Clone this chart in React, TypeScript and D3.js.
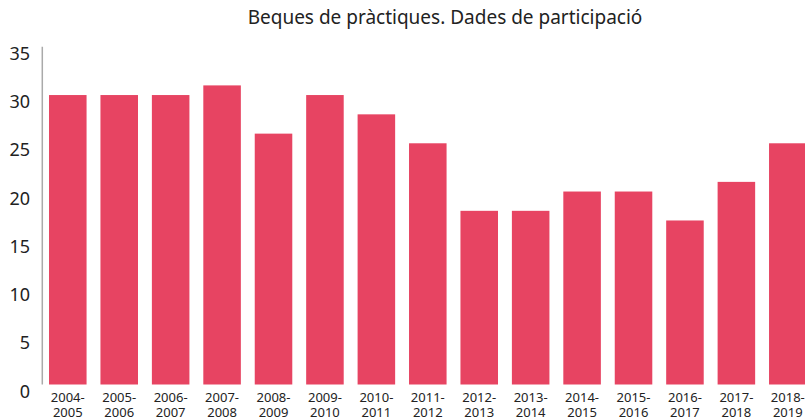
import React from "react";
import * as d3 from "d3";

const categories = [
  "2004-2005", "2005-2006", "2006-2007", "2007-2008", "2008-2009",
  "2009-2010", "2010-2011", "2011-2012", "2012-2013", "2013-2014",
  "2014-2015", "2015-2016", "2016-2017", "2017-2018", "2018-2019",
];
const values = [30, 30, 30, 31, 26, 30, 28, 25, 18, 18, 20, 20, 17, 21, 25];
const yTicks = [0, 5, 10, 15, 20, 25, 30, 35];
const title = "Beques de pràctiques. Dades de participació";

const W = 805;
const H = 418;
const FONT = "'Noto Sans', Lato, sans-serif";

export default function App() {
  const x = d3
    .scaleBand<string>()
    .domain(categories)
    .range([43, 812.6])
    .paddingInner(0.27)
    .paddingOuter(0.117);
  const y = d3.scaleLinear().domain([0, 35]).range([384.5, 46.8]);

  return (
    <svg
      width={W}
      height={H}
      style={{ position: "absolute", left: 0, top: 0, display: "block" }}
      fontFamily={FONT}
    >
      <rect width={W} height={H} fill="#fff" />
      <text x={445} y={23.5} textAnchor="middle" fontSize={19} fill="#222">
        {title}
      </text>
      {values.map((v, i) => (
        <rect
          key={categories[i]}
          x={x(categories[i])}
          y={y(v)}
          width={x.bandwidth()}
          height={y(0) - y(v)}
          fill="#e74462"
        />
      ))}
      <line x1={42.3} x2={42.3} y1={y(35)} y2={y(0)} stroke="#aaa" strokeWidth={1.5} />
      {yTicks.map((t) => (
        <text key={t} x={30} y={y(t) + 13} textAnchor="end" fontSize={18} fill="#222">
          {t}
        </text>
      ))}
      {categories.map((c) => {
        const [a, b] = c.split("-");
        const cx = (x(c) as number) + x.bandwidth() / 2;
        return (
          <text key={c} x={cx} textAnchor="middle" fontSize={13} fill="#222">
            <tspan x={cx} y={401.7}>{a + "-"}</tspan>
            <tspan x={cx} y={416.5}>{b}</tspan>
          </text>
        );
      })}
    </svg>
  );
}
